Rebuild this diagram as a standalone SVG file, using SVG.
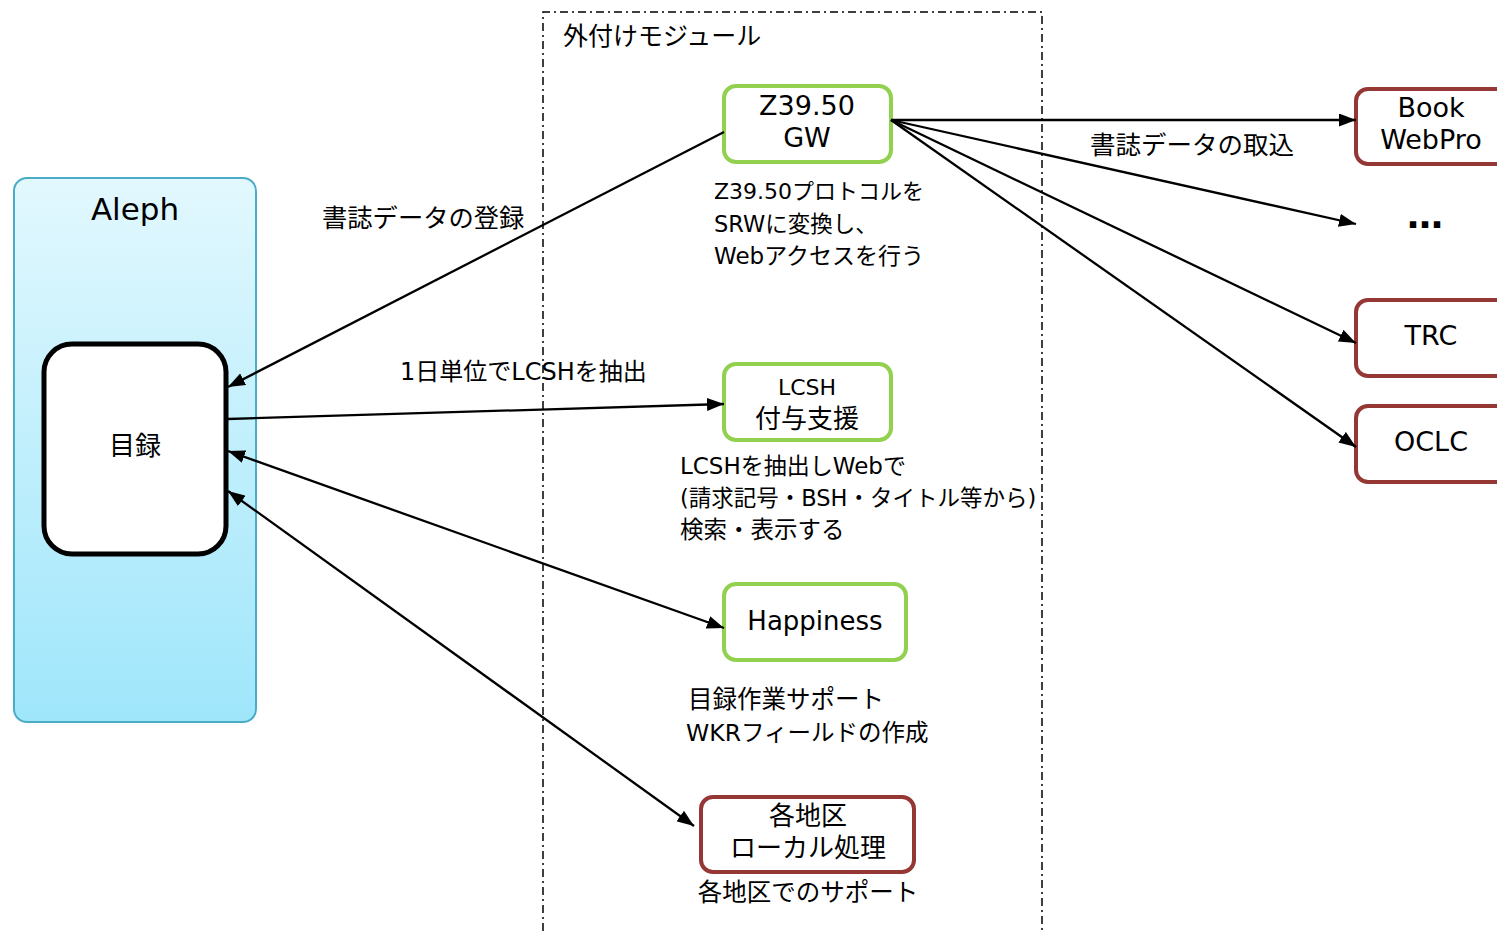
<svg xmlns="http://www.w3.org/2000/svg" width="1497" height="931" viewBox="0 0 1497 931">
<style>
text{font-family:"DejaVu Sans","Noto Sans CJK JP",sans-serif;fill:#000}
.g{fill:#fff;stroke:#92d050;stroke-width:4}
.r{fill:#fff;stroke:#953735;stroke-width:4}
.c{stroke:#000;stroke-width:2.3;fill:none}
.t{font-size:25px}
.m{text-anchor:middle}
</style>
<defs>
<linearGradient id="aq" x1="0" y1="0" x2="0" y2="1">
<stop offset="0" stop-color="#e2f8fe"/>
<stop offset="1" stop-color="#9fe6fb"/>
</linearGradient>
<marker id="a" viewBox="0 0 17 13" refX="17" refY="6.5" markerWidth="17" markerHeight="13" markerUnits="userSpaceOnUse" orient="auto-start-reverse">
<path d="M0,0 L17,6.5 L0,13 z" fill="#000"/>
</marker>
</defs>

<g id="module-frame">
<path d="M543,931 V12 H1042 V931" fill="none" stroke="#000" stroke-width="1.5" stroke-dasharray="8,4,2,4"/>
<text x="563" y="45" class="t">外付けモジュール</text>
</g>

<g id="aleph">
<rect x="14" y="178" width="242" height="544" rx="13" fill="url(#aq)" stroke="#4bacc6" stroke-width="2"/>
<text x="135" y="220" font-size="31" class="m">Aleph</text>
</g>

<g id="mokuroku">
<rect x="44" y="344" width="182" height="210" rx="28" fill="#fff" stroke="#000" stroke-width="5"/>
<text x="135" y="455" font-size="26" class="m">目録</text>
</g>

<g id="z3950">
<rect x="724" y="86" width="167" height="76" rx="12" class="g"/>
<text x="807" y="115" font-size="27" class="m">Z39.50</text>
<text x="807" y="147" font-size="27" class="m">GW</text>
<text x="714" y="199" font-size="22">Z39.50プロトコルを</text>
<text x="714" y="232" font-size="22.5">SRWに変換し、</text>
<text x="714" y="264" font-size="23">Webアクセスを行う</text>
</g>

<g id="lcsh">
<rect x="724" y="364" width="167" height="76" rx="12" class="g"/>
<text x="807" y="395" font-size="22" class="m">LCSH</text>
<text x="807" y="428" font-size="26" class="m">付与支援</text>
<text x="680" y="474" font-size="23">LCSHを抽出しWebで</text>
<text x="680" y="506" font-size="22.5">(請求記号・BSH・タイトル等から)</text>
<text x="680" y="538" font-size="23.5">検索・表示する</text>
</g>

<g id="happiness">
<rect x="724" y="584" width="182" height="76" rx="12" class="g"/>
<text x="815" y="630" font-size="26" class="m">Happiness</text>
<text x="688" y="708" font-size="24.5">目録作業サポート</text>
<text x="686" y="741" font-size="23.5">WKRフィールドの作成</text>
</g>

<g id="local">
<rect x="701" y="797" width="213" height="75" rx="12" class="r"/>
<text x="808" y="825" font-size="26" class="m">各地区</text>
<text x="808" y="857" font-size="26" class="m">ローカル処理</text>
<text x="808" y="901" font-size="24.5" class="m">各地区でのサポート</text>
</g>

<g id="book-webpro">
<rect x="1356" y="89" width="160" height="75" rx="12" class="r"/>
<text x="1431" y="117" font-size="27" class="m">Book</text>
<text x="1431" y="149" font-size="27" class="m">WebPro</text>
</g>

<g id="etc">
<text x="1425" y="228" font-size="36" font-weight="bold" class="m">…</text>
</g>

<g id="trc">
<rect x="1356" y="300" width="160" height="76" rx="12" class="r"/>
<text x="1431" y="345" font-size="27" class="m">TRC</text>
</g>

<g id="oclc">
<rect x="1356" y="406" width="160" height="76" rx="12" class="r"/>
<text x="1431" y="451" font-size="27" class="m">OCLC</text>
</g>

<g id="connectors">
<line x1="724" y1="132" x2="228" y2="387" class="c" marker-end="url(#a)"/>
<line x1="228" y1="419" x2="724" y2="404" class="c" marker-end="url(#a)"/>
<line x1="228" y1="451" x2="724" y2="628" class="c" marker-start="url(#a)" marker-end="url(#a)"/>
<line x1="228" y1="491" x2="694" y2="826" class="c" marker-start="url(#a)" marker-end="url(#a)"/>
<line x1="891" y1="120" x2="1356" y2="120" class="c" marker-end="url(#a)"/>
<line x1="891" y1="120" x2="1356" y2="224" class="c" marker-end="url(#a)"/>
<line x1="891" y1="120" x2="1356" y2="343" class="c" marker-end="url(#a)"/>
<line x1="891" y1="120" x2="1356" y2="447" class="c" marker-end="url(#a)"/>
<text x="322" y="227" font-size="25.3">書誌データの登録</text>
<text x="400" y="380" font-size="24">1日単位でLCSHを抽出</text>
<text x="1090" y="154" font-size="25.5">書誌データの取込</text>
</g>
</svg>
